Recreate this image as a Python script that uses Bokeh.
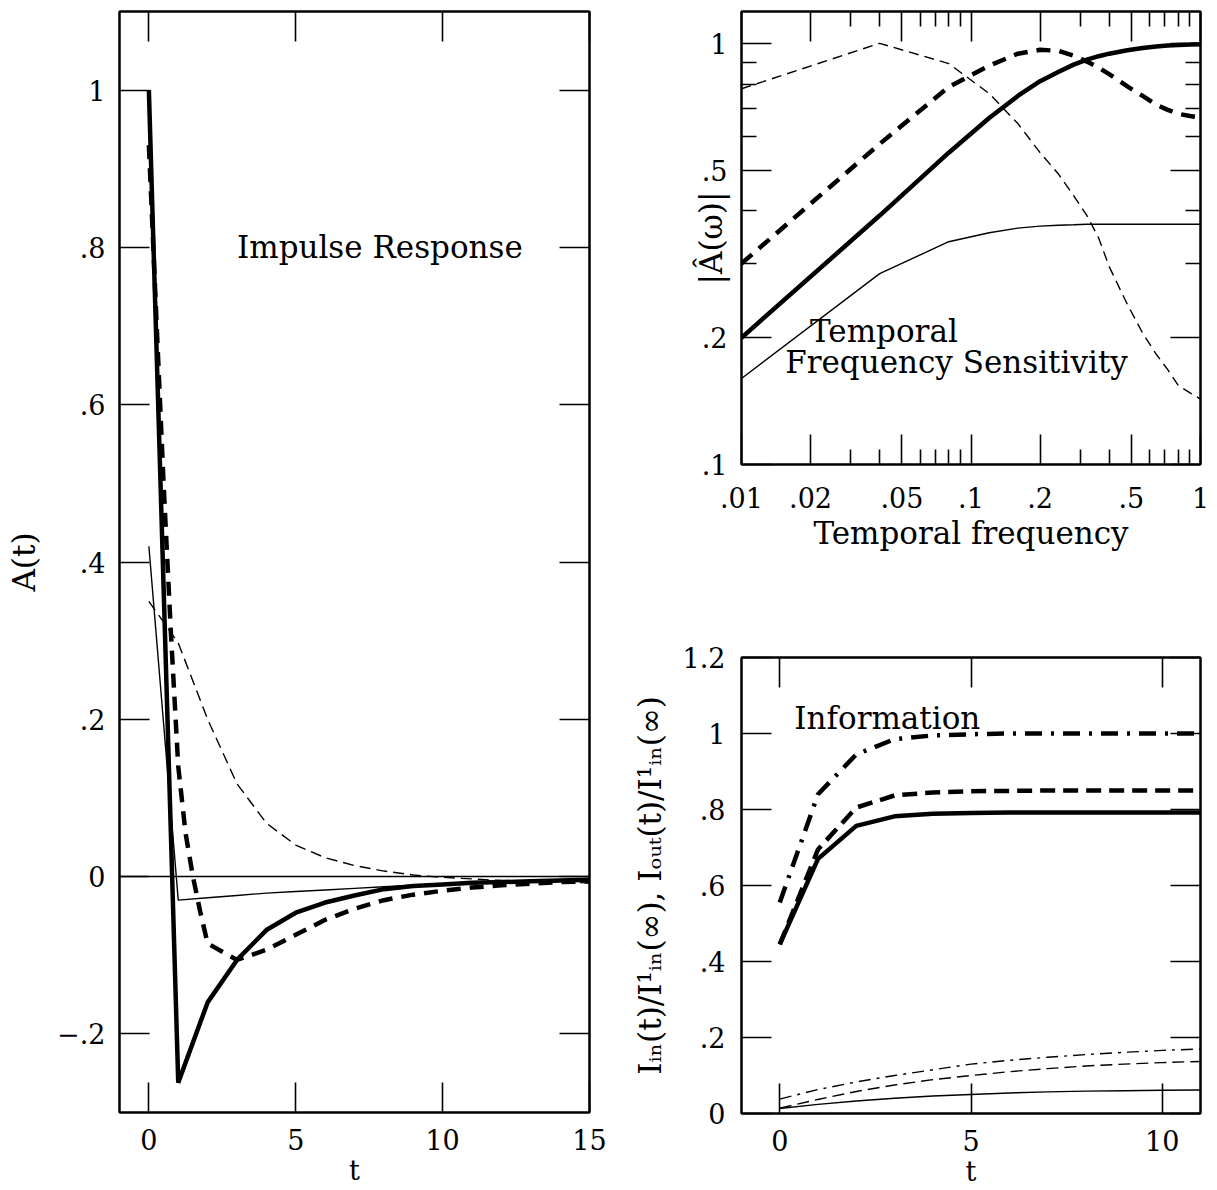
from bokeh.plotting import figure
from bokeh.models import (FixedTicker, LinearAxis, LogAxis, Span, Label, Range1d,
                          CustomJSTickFormatter)
from bokeh.layouts import row, column
from bokeh.embed import file_html
from bokeh.resources import INLINE

FONT = "DejaVu Serif"

# ---------------- Impulse response (left panel) ----------------
ir_t = [0, 1, 2, 3, 4, 5, 6, 7, 8, 9, 10, 11, 12, 13, 14, 15]
ir_thick_solid = [1.0, -0.262, -0.160, -0.106, -0.068, -0.046, -0.033, -0.024,
                  -0.016, -0.012, -0.010, -0.008, -0.007, -0.006, -0.005, -0.004]
ir_thick_dash_t = [0, 0.5, 0.75, 1.0, 1.25, 1.5, 1.75, 2, 3, 4, 5, 6, 7, 8,
                   9, 10, 11, 12, 13, 14, 15]
ir_thick_dash = [0.93, 0.50, 0.31, 0.14, 0.055, 0.0, -0.045, -0.085, -0.106,
                 -0.093, -0.074, -0.055, -0.041, -0.030, -0.023, -0.018,
                 -0.014, -0.011, -0.009, -0.007, -0.006]
ir_thin_solid = [0.42, -0.030, -0.027, -0.024, -0.021, -0.019, -0.017, -0.015,
                 -0.013, -0.011, -0.009, -0.008, -0.007, -0.006, -0.005, -0.005]
ir_thin_dash = [0.35, 0.297, 0.200, 0.118, 0.068, 0.040, 0.024, 0.014, 0.007,
                0.002, -0.001, -0.003, -0.005, -0.006, -0.007, -0.008]
ir_xticks = [0, 5, 10, 15]
ir_xlabels = ["0", "5", "10", "15"]
ir_yticks = [-0.2, 0, 0.2, 0.4, 0.6, 0.8, 1.0]
ir_ylabels = ["\u2212.2", "0", ".2", ".4", ".6", ".8", "1"]

# ---------------- Temporal frequency sensitivity (top right) ----------------
fs_f = [0.01, 0.04, 0.08, 0.12, 0.16, 0.20, 0.24, 0.28, 0.32, 0.36, 0.40,
        0.48, 0.56, 0.64, 0.72, 0.80, 0.90, 1.0]
fs_thick_solid = [0.20, 0.39, 0.55, 0.665, 0.75, 0.813, 0.855, 0.89, 0.915,
                  0.932, 0.945, 0.963, 0.975, 0.983, 0.988, 0.991, 0.993, 0.995]
fs_thick_dash = [0.30, 0.577, 0.788, 0.885, 0.945, 0.965, 0.96, 0.935, 0.905,
                 0.875, 0.845, 0.79, 0.75, 0.715, 0.695, 0.68, 0.672, 0.667]
fs_thin_solid = [0.16, 0.284, 0.338, 0.355, 0.364, 0.368, 0.370, 0.371, 0.372,
                 0.372, 0.372, 0.372, 0.372, 0.372, 0.372, 0.372, 0.372, 0.372]
fs_thin_dash = [0.78, 1.0, 0.895, 0.76, 0.645, 0.55, 0.49, 0.435, 0.39, 0.345,
                0.295, 0.24, 0.205, 0.183, 0.168, 0.154, 0.148, 0.143]
fs_xticks = [0.01, 0.02, 0.05, 0.1, 0.2, 0.5, 1.0]
fs_xlabels = [".01", ".02", ".05", ".1", ".2", ".5", "1"]
fs_xminor = [0.03, 0.04, 0.06, 0.07, 0.08, 0.09, 0.3, 0.4, 0.6, 0.7, 0.8, 0.9]
fs_yticks = [0.1, 0.2, 0.5, 1.0]
fs_ylabels = [".1", ".2", ".5", "1"]
fs_yminor = [0.3, 0.4, 0.6, 0.7, 0.8, 0.9]

# ---------------- Information (bottom right) ----------------
inf_t = [0, 1, 2, 3, 4, 5, 6, 7, 8, 9, 10, 11]
inf_thick_solid = [0.445, 0.670, 0.757, 0.782, 0.789, 0.791, 0.792, 0.792,
                   0.792, 0.792, 0.792, 0.792]
inf_thick_dash = [0.445, 0.695, 0.805, 0.837, 0.845, 0.848, 0.849, 0.850,
                  0.850, 0.850, 0.850, 0.850]
inf_thick_dashdot = [0.555, 0.84, 0.945, 0.985, 0.995, 0.998, 1.0, 1.0, 1.0,
                     1.0, 1.0, 1.0]
inf_thin_solid = [0.013, 0.024, 0.033, 0.040, 0.046, 0.050, 0.054, 0.057,
                  0.059, 0.060, 0.061, 0.062]
inf_thin_dash = [0.014, 0.037, 0.058, 0.075, 0.089, 0.100, 0.110, 0.118,
                 0.125, 0.130, 0.134, 0.137]
inf_thin_dashdot = [0.038, 0.063, 0.083, 0.100, 0.115, 0.130, 0.140, 0.148,
                    0.155, 0.161, 0.166, 0.170]
inf_xticks = [0, 5, 10]
inf_xlabels = ["0", "5", "10"]
inf_yticks = [0, 0.2, 0.4, 0.6, 0.8, 1.0, 1.2]
inf_ylabels = ["0", ".2", ".4", ".6", ".8", "1", "1.2"]

THICK = 4.5
THIN = 1.4
TICK_FS = "27px"
AXIS_FS = "31px"
NOTE_FS = "31px"


def fmt(vals, labs):
    return CustomJSTickFormatter(args=dict(tvals=vals, tlabs=labs), code="""
        for (let i = 0; i < tvals.length; i++) {
            if (Math.abs(tvals[i] - tick) <= 1e-9 * Math.max(1, Math.abs(tick))) return tlabs[i];
        }
        return '';
    """)


def setup_axis(ax, ticks, labels, minor=None, show=True, major_len=30,
               minor_len=15, standoff=14, label_fs=AXIS_FS):
    ax.ticker = FixedTicker(ticks=ticks, minor_ticks=minor or [])
    ax.major_tick_in = major_len
    ax.major_tick_out = 0
    ax.minor_tick_in = minor_len
    ax.minor_tick_out = 0
    ax.major_tick_line_color = "black"
    ax.major_tick_line_width = 1.6
    ax.minor_tick_line_color = "black" if minor else None
    ax.minor_tick_line_width = 1.6
    ax.axis_line_color = "black"
    ax.axis_line_width = 2
    if show:
        ax.formatter = fmt(ticks, labels)
        ax.major_label_text_font = FONT
        ax.major_label_text_font_size = TICK_FS
        ax.major_label_text_color = "black"
        ax.major_label_standoff = standoff
    else:
        ax.formatter = fmt(ticks, ["" for _ in ticks])
        ax.major_label_text_font_size = "0px"
        ax.major_label_standoff = 0
    ax.axis_label_text_font = FONT
    ax.axis_label_text_font_size = label_fs
    ax.axis_label_text_font_style = "normal"
    ax.axis_label_text_color = "black"


def base_fig(**kw):
    p = figure(output_backend="svg", toolbar_location=None, **kw)
    p.xgrid.visible = False
    p.ygrid.visible = False
    p.outline_line_color = "black"
    p.outline_line_width = 2
    p.outline_line_alpha = 1
    p.background_fill_color = "white"
    p.border_fill_color = "white"
    return p


# ---------- left panel ----------
p1 = base_fig(width=620, height=1190, x_range=Range1d(-1, 15),
              y_range=Range1d(-0.3, 1.1), min_border_left=119,
              min_border_right=31, min_border_top=11, min_border_bottom=78)
setup_axis(p1.xaxis[0], ir_xticks, ir_xlabels, standoff=16, label_fs="27px")
setup_axis(p1.yaxis[0], ir_yticks, ir_ylabels, standoff=14)
p1.xaxis[0].axis_label = "t"
p1.xaxis[0].axis_label_standoff = 2
p1.yaxis[0].axis_label = "A(t)"
p1.yaxis[0].axis_label_standoff = 12
ax_top = LinearAxis()
setup_axis(ax_top, ir_xticks, ir_xlabels, show=False)
p1.add_layout(ax_top, "above")
ax_right = LinearAxis()
setup_axis(ax_right, ir_yticks, ir_ylabels, show=False)
p1.add_layout(ax_right, "right")

p1.add_layout(Span(location=0, dimension="width", line_color="black", line_width=1.5))
p1.line(ir_t, ir_thin_solid, line_color="black", line_width=THIN)
p1.line(ir_t, ir_thin_dash, line_color="black", line_width=THIN, line_dash="11 6")
p1.line(ir_thick_dash_t, ir_thick_dash, line_color="black", line_width=THICK,
        line_dash="14 9")
p1.line(ir_t, ir_thick_solid, line_color="black", line_width=THICK)
p1.add_layout(Label(x=3.0, y=0.8, text="Impulse Response", text_font=FONT,
                    text_font_size=NOTE_FS, text_baseline="middle",
                    text_align="left", text_color="black"))

# ---------- top right panel ----------
p2 = base_fig(width=589, height=600, x_axis_type="log", y_axis_type="log",
              x_range=Range1d(0.01, 1.0), y_range=Range1d(0.1, 1.19),
              min_border_left=119, min_border_right=9, min_border_top=11,
              min_border_bottom=136)
setup_axis(p2.xaxis[0], fs_xticks, fs_xlabels, minor=fs_xminor, standoff=22)
setup_axis(p2.yaxis[0], fs_yticks, fs_ylabels, minor=fs_yminor, standoff=14)
p2.xaxis[0].axis_label = "Temporal frequency"
p2.xaxis[0].axis_label_standoff = 4
p2.yaxis[0].axis_label = "|\u00c2(\u03c9)|"
p2.yaxis[0].axis_label_standoff = -30
ax2_top = LogAxis()
setup_axis(ax2_top, fs_xticks, fs_xlabels, minor=fs_xminor, show=False)
p2.add_layout(ax2_top, "above")
ax2_right = LogAxis()
setup_axis(ax2_right, fs_yticks, fs_ylabels, minor=fs_yminor, show=False)
p2.add_layout(ax2_right, "right")

p2.line(fs_f, fs_thin_solid, line_color="black", line_width=THIN)
p2.line(fs_f, fs_thin_dash, line_color="black", line_width=THIN, line_dash="10 6")
p2.line(fs_f, fs_thick_dash, line_color="black", line_width=THICK, line_dash="14 9")
p2.line(fs_f, fs_thick_solid, line_color="black", line_width=THICK)
p2.add_layout(Label(x=0.0199, y=0.208, text="Temporal", text_font=FONT,
                    text_font_size=NOTE_FS, text_baseline="middle",
                    text_align="left", text_color="black"))
p2.add_layout(Label(x=0.0155, y=0.175, text="Frequency Sensitivity",
                    text_font=FONT, text_font_size=NOTE_FS,
                    text_baseline="middle", text_align="left",
                    text_color="black"))

# ---------- bottom right panel ----------
p3 = base_fig(width=589, height=590, x_range=Range1d(-1, 11),
              y_range=Range1d(0, 1.2), min_border_left=121, min_border_right=9,
              min_border_top=57, min_border_bottom=77)
setup_axis(p3.xaxis[0], inf_xticks, inf_xlabels, standoff=16, label_fs="27px")
setup_axis(p3.yaxis[0], inf_yticks, inf_ylabels, standoff=16)
p3.xaxis[0].axis_label = "t"
p3.xaxis[0].axis_label_standoff = 2
p3.yaxis[0].axis_label = ("I\u1d62\u2099(t)/I\u00b9\u1d62\u2099(\u221e), "
                          "I\u2092\u1d64\u209c(t)/I\u00b9\u1d62\u2099(\u221e)")
p3.yaxis[0].axis_label_standoff = 12
ax3_top = LinearAxis()
setup_axis(ax3_top, inf_xticks, inf_xlabels, show=False)
p3.add_layout(ax3_top, "above")
ax3_right = LinearAxis()
setup_axis(ax3_right, inf_yticks, inf_ylabels, show=False)
p3.add_layout(ax3_right, "right")

p3.line(inf_t, inf_thin_solid, line_color="black", line_width=THIN)
p3.line(inf_t, inf_thin_dash, line_color="black", line_width=THIN, line_dash="12 6")
p3.line(inf_t, inf_thin_dashdot, line_color="black", line_width=THIN,
        line_dash="12 6 3 6")
p3.line(inf_t, inf_thick_solid, line_color="black", line_width=THICK)
p3.line(inf_t, inf_thick_dash, line_color="black", line_width=THICK, line_dash="15 8")
p3.line(inf_t, inf_thick_dashdot, line_color="black", line_width=THICK,
        line_dash="17 9 3 9")
p3.add_layout(Label(x=0.38, y=1.04, text="Information", text_font=FONT,
                    text_font_size=NOTE_FS, text_baseline="middle",
                    text_align="left", text_color="black"))

layout = row(p1, column(p2, p3))
open("out.html", "w").write(file_html(layout, INLINE))
